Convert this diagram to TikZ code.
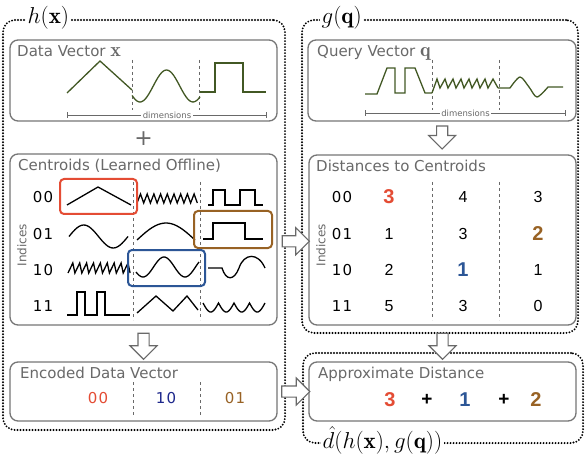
\documentclass[tikz,border=0pt]{standalone}
\usepackage{fix-cm}
\usepackage{amsmath}
\usepackage{fontspec}
\newfontfamily\titlefont{DejaVu Sans}
\newfontfamily\idxfont[LetterSpace=8]{DejaVu Sans}
\newfontfamily\numfont{Liberation Sans}
\usetikzlibrary{shapes.arrows,calc,positioning}
\definecolor{pkred}{RGB}{228,76,52}
\definecolor{pkblue}{RGB}{44,86,150}
\definecolor{pkbrown}{RGB}{152,98,36}
\definecolor{pknavy}{RGB}{30,40,140}
\definecolor{wvgreen}{RGB}{66,88,36}
\definecolor{boxgray}{RGB}{118,118,118}
\definecolor{txtgray}{RGB}{105,105,105}
\newcommand{\vecsym}[1]{{\fontsize{20}{20}\selectfont$\mathbf{#1}$}}
\tikzstyle{outer} = [draw, line width=2.1pt, line cap=round, dash pattern=on 0pt off 3pt, rounded corners=12pt, inner sep=0pt]
\tikzstyle{panel} = [draw=boxgray, line width=1.3pt, fill=white, rounded corners=8pt, inner sep=0pt]
\tikzstyle{title} = [anchor=base west, inner sep=0pt, text=txtgray, font=\titlefont\fontsize{15}{18}\selectfont]
\tikzstyle{fname} = [anchor=west, fill=white, inner sep=1.5pt, font=\fontsize{23}{27}\selectfont]
\tikzstyle{hollow} = [single arrow, draw=txtgray, fill=white, line width=1.1pt, inner xsep=0pt, inner ysep=5pt, text height=0pt, text depth=0pt, single arrow head extend=8pt, minimum height=26pt]
\tikzstyle{cut} = [draw=txtgray, dashed, line width=0.6pt]
\tikzstyle{wave} = [line width=1.3pt, line join=miter]
\tikzstyle{dvec} = [wave, color=wvgreen]
\tikzstyle{pick} = [draw=#1, line width=2pt, rounded corners=4pt, inner sep=0pt]
\tikzstyle{idx} = [inner sep=0pt, font=\idxfont\fontsize{15}{18}\selectfont]
\tikzstyle{num} = [inner sep=0pt, font=\numfont\fontsize{16}{19}\selectfont]
\tikzstyle{big} = [inner sep=0pt, font=\numfont\bfseries\fontsize{20}{24}\selectfont]
\tikzstyle{dimline} = [draw=txtgray, line width=0.6pt, |-|]
\tikzstyle{dimtext} = [fill=white, inner sep=1.5pt, text=txtgray, font=\titlefont\fontsize{8.5}{10}\selectfont]
\tikzstyle{sidelabel} = [rotate=90, inner sep=0pt, text=txtgray, font=\titlefont\fontsize{12}{14}\selectfont]

\begin{document}
\begin{tikzpicture}[x=1pt,y=-1pt]
\useasboundingbox (0,0) rectangle (588,454);

% dotted groups
\node[outer, minimum width=282pt, minimum height=410pt] (hbox) at (144,225) {};
\node[outer, minimum width=276pt, minimum height=313pt] (gbox) at (440,176.5) {};
\node[outer, minimum width=280pt, minimum height=90pt] (dbox) at (443,398) {};
\node[fname] (hlab) at (26,18) {$h(\mathbf{x})$};
\node[fname] (glab) at (320,18) {$g(\mathbf{q})$};
\node[fname] (dlab) at (321,440) {$\hat{d}(h(\mathbf{x}),g(\mathbf{q}))$};

% panels
\node[panel, minimum width=267pt, minimum height=81pt] (data) at (143.5,80.5) {};
\node[panel, minimum width=267pt, minimum height=171pt] (cent) at (143.5,239.5) {};
\node[panel, minimum width=267pt, minimum height=59pt] (enc) at (143.5,391.5) {};
\node[panel, minimum width=268pt, minimum height=81pt] (query) at (442,80.5) {};
\node[panel, minimum width=267pt, minimum height=170pt] (dist) at (442.5,240) {};
\node[panel, minimum width=267pt, minimum height=59pt] (approx) at (442.5,391.5) {};

\node[title] (tdata) at (17,57) {Data Vector \vecsym{x}};
\node[title] (tcent) at (18,171) {Centroids (Learned Offline)};
\node[title] (tenc) at (20,378) {Encoded Data Vector};
\node[title] (tquery) at (317,57) {Query Vector \vecsym{q}};
\node[title] (tdist) at (316,172) {Distances to Centroids};
\node[title] (tapprox) at (318,378) {Approximate Distance};

% links between panels
\node[inner sep=0pt, text=txtgray, font=\titlefont\fontsize{22}{24}\selectfont] (plus) at ($(data.south)!0.55!(cent.north)$) {+};
\node[hollow, rotate=-90] (a1) at ($(cent.south)!0.5!(enc.north)$) {};
\node[hollow, rotate=-90, minimum height=23pt] (a2) at ($(query.south)!0.4!(dist.north)$) {};
\node[hollow, rotate=-90] (a3) at ($(dist.south)!0.5!(approx.north)$) {};
\node[hollow, minimum height=27pt] (a4) at ($(cent.east)!0.5!(dist.west)+(0,1.5)$) {};
\node[hollow, minimum height=28pt] (a5) at ($(enc.east)!0.5!(approx.west)$) {};

% data vector
\draw[cut] (132,60) -- (132,110) (199,60) -- (199,110);
\draw[dvec] (67,93) -- (100,61) -- (132,90);
\draw[dvec] plot[smooth, domain=36:498, samples=40] ({140+(\x-90)*0.1472},{86+16*sin(\x)});
\draw[dvec] (200,92) -- (215,92) -- (215,63) -- (243,63) -- (243,92) -- (266,92);
\draw[dimline] (67,115) -- (267,115) node[dimtext, midway] (dimx) {dimensions};

% centroids
\draw[cut] (133,182) -- (133,320) (200,182) -- (200,320);
\foreach \i/\yy in {00/197,01/234,10/270,11/306}
  \node[idx] (c\i) at (43,\yy) {\i};
\node[sidelabel] (cside) at (22,245) {Indices};
% row 00
\draw[wave] (67,205) -- (98,187) -- (131,205);
\draw[wave] (137,203) \foreach \k in {1,...,9} {-- ++(3.5,-9) -- ++(3.2,9)};
\draw[wave] (208,205) -- (213,205) -- (213,190) -- (225,190) -- (225,205) -- (240,205) -- (240,190) -- (255,190) -- (255,205) -- (263,205);
% row 01
\draw[wave] plot[smooth, domain=0:360, samples=30] ({69+\x/360*59},{236.5-11.5*sin(\x)});
\draw[wave] plot[smooth, domain=0:180, samples=20] ({137+\x/180*58},{240-17*sin(\x)});
\draw[wave] (203,239) -- (213,239) -- (213,223) -- (245,223) -- (245,239) -- (263,239);
% row 10
\draw[wave] (68,273) \foreach \k in {1,...,9} {-- ++(4.8,-10) -- ++(2.1,10)};
\draw[wave] plot[smooth, domain=120:660, samples=40] ({143+(\x-180)/360*42},{267-10*cos(\x)});
\draw[wave] (208,268) -- (222,268) .. controls (226,281) and (234,281) .. (239,268) .. controls (244,253) and (258,252) .. (265,268);
% row 11
\draw[wave] (67,315) -- (77,315) -- (77,292) -- (85,292) -- (85,315) -- (97,315) -- (97,292) -- (105,292) -- (105,315) -- (130,315);
\draw[wave] (137,313) -- (156,296) -- (173,311) -- (187,296) -- (198,310);
\draw[wave] plot[domain=0:720, samples=73] ({203+\x/180*15.5},{303+9*abs(sin(\x))});
% chosen centroids
\node[pick=pkred, minimum width=77pt, minimum height=35pt] (p0) at (98.5,196.5) {};
\node[pick=pkbrown, minimum width=78pt, minimum height=37pt] (p1) at (233,229.5) {};
\node[pick=pkblue, minimum width=77pt, minimum height=36pt] (p2) at (166.5,268) {};

% encoded
\draw[cut] (133,382) -- (133,415) (200,382) -- (200,415);
\node[idx, text=pkred] (e1) at (98,398) {00};
\node[idx, text=pknavy] (e2) at (166,398) {10};
\node[idx, text=pkbrown] (e3) at (235,398) {01};

% query vector
\draw[cut] (432,60) -- (432,110) (499,60) -- (499,110);
\draw[dvec] (365,94) -- (377,94) -- (387,68) -- (395,68) -- (395,93) -- (405,93) -- (405,68) -- (415,68) -- (425,93) -- (432,93);
\draw[dvec] (432,93) -- (437,79) \foreach \k in {1,...,7} {-- ++(3,9) -- ++(5,-9)} -- (498,88);
\draw[dvec] (498,88) -- (510,88) plot[smooth] coordinates {(510,88) (520,77) (529,87) (537,97) (548,87)} -- (563,87);
\draw[dimline] (365,113) -- (566,113) node[dimtext, midway] (dimq) {dimensions};

% distances
\draw[cut] (432,182) -- (432,320) (499,182) -- (499,320);
\foreach \i/\yy in {00/197,01/234,10/270,11/306}
  \node[idx] (d\i) at (342,\yy) {\i};
\node[sidelabel] (dside) at (321,245) {Indices};
\node[big, text=pkred] (v00a) at (389,197) {3};
\node[num] (v00b) at (463,197) {4};
\node[num] (v00c) at (538,197) {3};
\node[num] (v01a) at (389,234) {1};
\node[num] (v01b) at (463,234) {3};
\node[big, text=pkbrown] (v01c) at (538,234) {2};
\node[num] (v10a) at (389,270) {2};
\node[big, text=pkblue] (v10b) at (463,270) {1};
\node[num] (v10c) at (538,270) {1};
\node[num] (v11a) at (389,306) {5};
\node[num] (v11b) at (463,306) {3};
\node[num] (v11c) at (538,306) {0};

% approximate distance
\node[big, text=pkred] (s1) at (390,400) {3};
\node[num, font=\numfont\bfseries\fontsize{19}{22}\selectfont] (s2) at (427,400) {+};
\node[big, text=pkblue] (s3) at (465,400) {1};
\node[num, font=\numfont\bfseries\fontsize{19}{22}\selectfont] (s4) at (504,400) {+};
\node[big, text=pkbrown] (s5) at (536,400) {2};
\end{tikzpicture}
\end{document}
